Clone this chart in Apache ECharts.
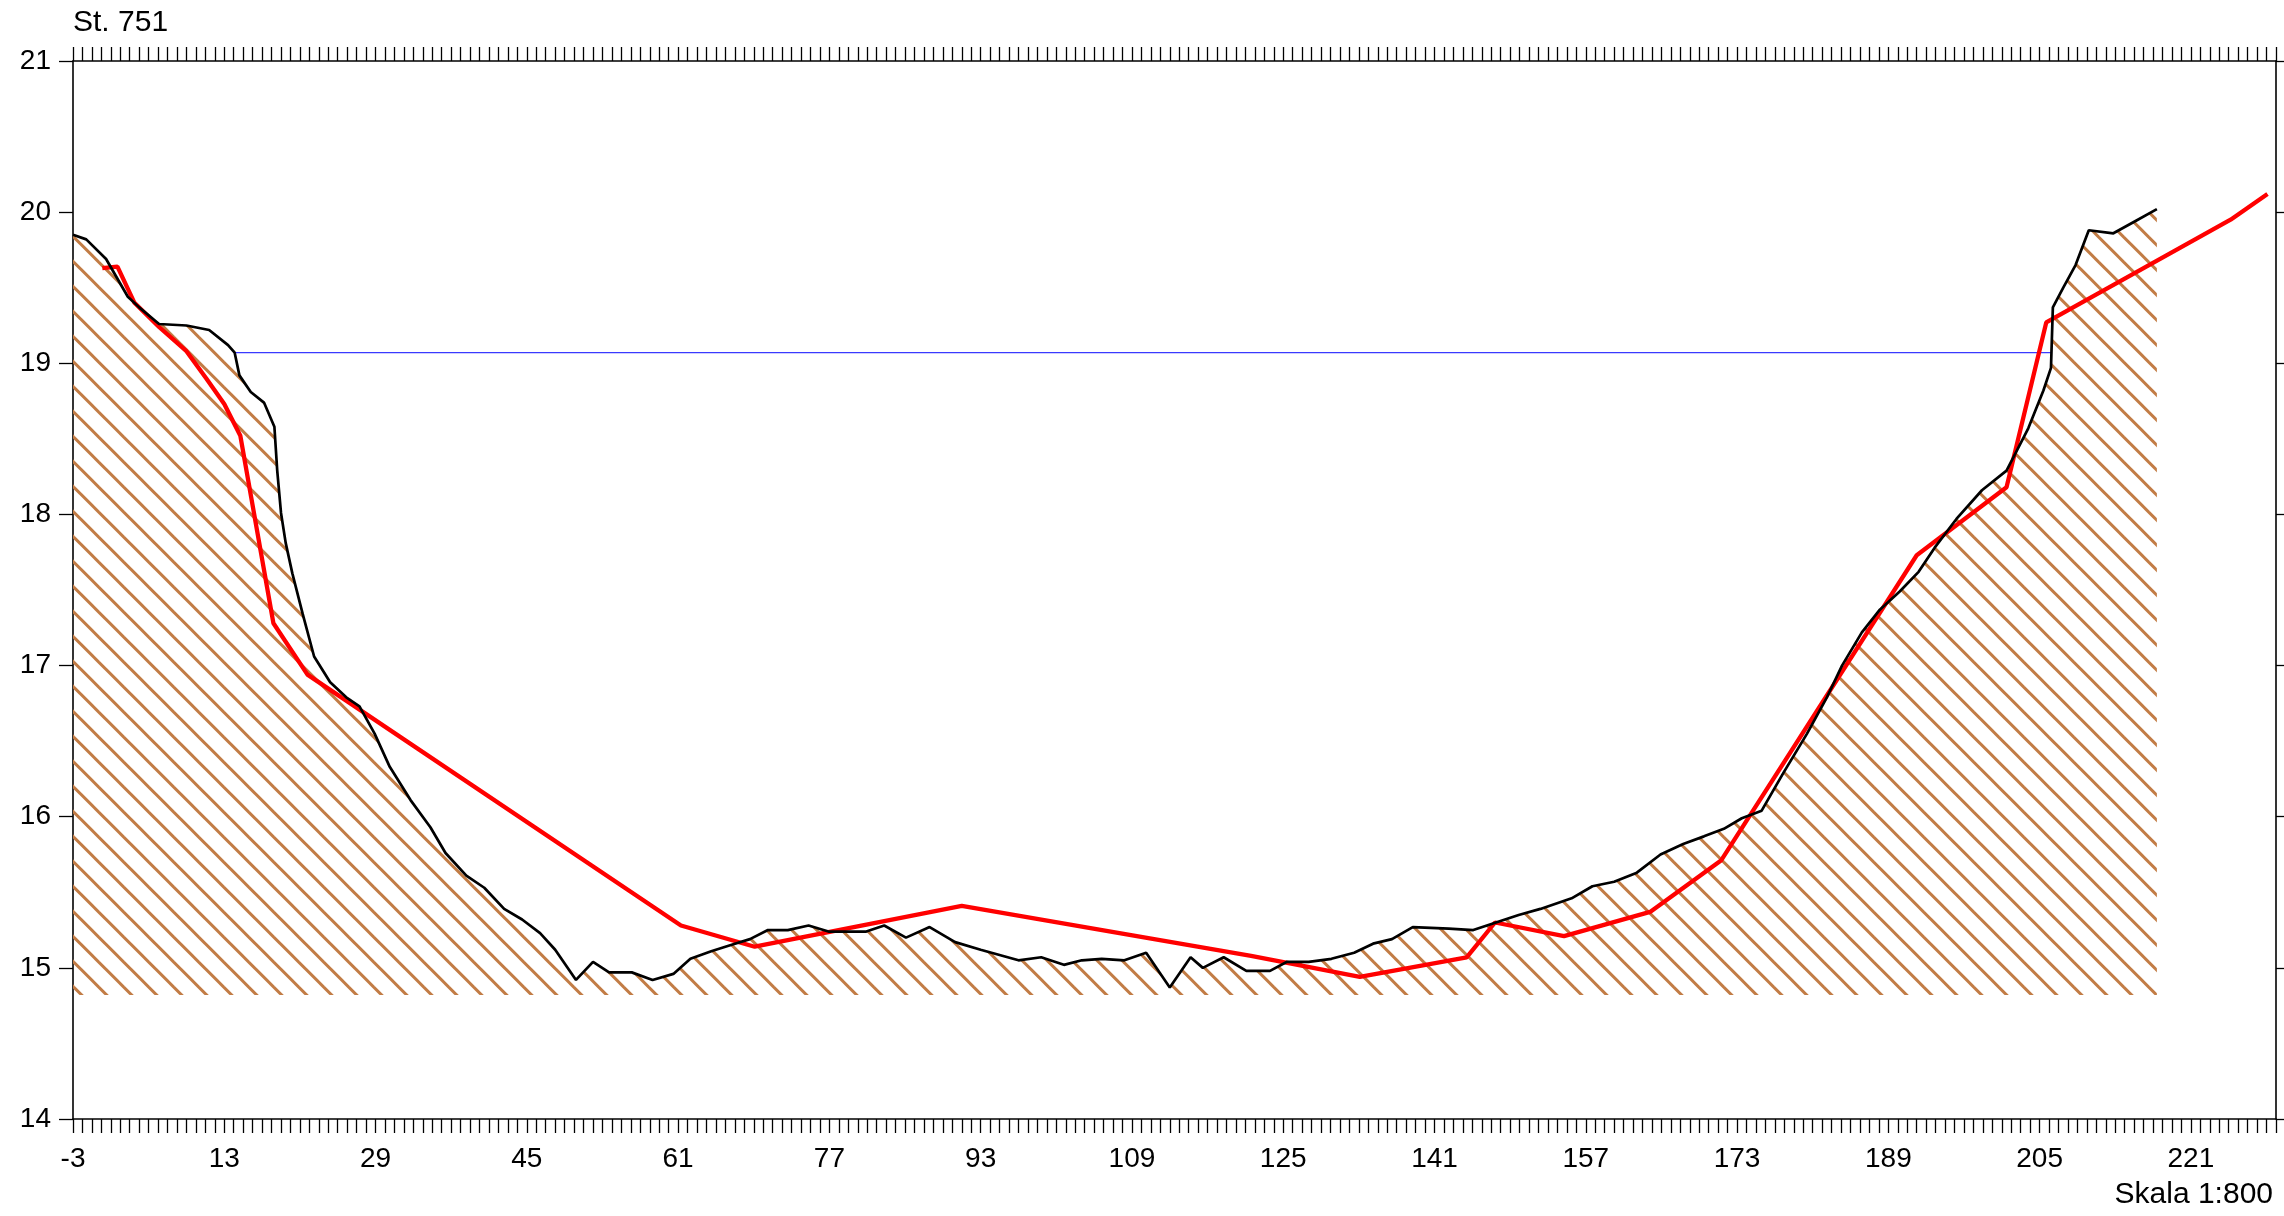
<!DOCTYPE html>
<html>
<head>
<meta charset="utf-8">
<script src="https://cdn.jsdelivr.net/npm/echarts@6/dist/echarts.min.js"></script>
<style>
html, body { margin: 0; padding: 0; background: #fff; }
#chart { width: 2284px; height: 1216px; }
</style>
</head>
<body>
<div id="chart"></div>
<script>
// terrain profile (black) - station, height
var groundX = [-3, -1.6, 0.5, 2.8, 4.0, 6.1, 9.0, 11.4, 13.4, 14.1, 14.6, 15.8, 17.2, 18.3, 18.6, 19.0, 19.5, 20.2, 21.3, 22.5,
  24.2, 25.9, 27.3, 28.9, 30.5, 32.7, 34.8, 36.4, 38.6, 40.5, 42.6, 44.5, 46.4, 48.0, 50.2, 52.0, 53.7, 56.1, 58.3, 60.5,
  62.3, 64.5, 66.5, 68.6, 70.5, 72.6, 74.8, 76.9, 80.9, 82.8, 85.1, 87.6, 90.3, 93.0, 97.0, 99.4, 101.8, 103.7, 105.8, 108.2,
  110.5, 113.0, 115.2, 116.5, 118.7, 121.1, 123.6, 125.4, 127.7, 130.1, 132.5, 134.5, 136.5, 138.7, 142.5, 145.1, 147.5, 149.9, 152.2, 155.5,
  157.7, 160.0, 162.4, 164.9, 167.3, 169.5, 171.6, 173.5, 175.6, 177.9, 180.4, 182.5, 184.1, 186.2, 188.1, 190.2, 192.2, 193.9, 196.2, 198.9,
  201.5, 203.8, 205.4, 206.2, 206.4, 207.5, 208.8, 210.2, 212.8, 215.1, 217.4];
var groundY = [19.85, 19.82, 19.69, 19.44, 19.37, 19.26, 19.25, 19.22, 19.12, 19.07, 18.92, 18.81, 18.74, 18.58, 18.29, 18.01, 17.81, 17.61, 17.34, 17.06,
  16.89, 16.79, 16.73, 16.55, 16.33, 16.11, 15.93, 15.76, 15.61, 15.53, 15.39, 15.32, 15.23, 15.12, 14.92, 15.04, 14.97, 14.97, 14.92, 14.96,
  15.06, 15.11, 15.15, 15.19, 15.25, 15.25, 15.28, 15.24, 15.24, 15.28, 15.20, 15.27, 15.17, 15.12, 15.05, 15.07, 15.02, 15.05, 15.06, 15.05,
  15.10, 14.87, 15.07, 15.00, 15.07, 14.98, 14.98, 15.04, 15.04, 15.06, 15.10, 15.16, 15.19, 15.27, 15.26, 15.25, 15.30, 15.35, 15.39, 15.46,
  15.54, 15.57, 15.63, 15.75, 15.82, 15.87, 15.92, 15.99, 16.04, 16.29, 16.55, 16.79, 17.00, 17.22, 17.37, 17.49, 17.62, 17.78, 17.97, 18.16,
  18.29, 18.57, 18.82, 18.97, 19.37, 19.50, 19.65, 19.88, 19.86, 19.94, 20.02];

// design profile (red)
var designX = [0.1, 1.7, 3.5, 6.1, 9.0, 11.1, 13.0, 14.7, 18.2, 21.8, 61.3, 69.1, 91.0, 121.6, 133.1, 144.4, 147.4, 154.7, 163.8, 171.3,
  192.0, 201.5, 205.7, 225.2, 229.1];
var designY = [19.63, 19.64, 19.40, 19.24, 19.08, 18.90, 18.73, 18.52, 17.28, 16.94, 15.28, 15.14, 15.41, 15.08, 14.94, 15.07, 15.30, 15.21, 15.37, 15.71,
  17.73, 18.18, 19.27, 19.95, 20.12];

// water level (blue)
var waterX = [14.1, 206.2];
var waterY = [19.07, 19.07];

var hatchBase = 14.82;
var xMin = -3, xMax = 230, labelStep = 16;
var yMin = 14, yMax = 21;

var font = '"Liberation Sans", Arial, sans-serif';

function pairs(xs, ys) {
    return xs.map(function (x, i) { return [x, ys[i]]; });
}

// 斜线填充
var hatch = document.createElement('canvas');
hatch.width = 25;
hatch.height = 25;
var hc = hatch.getContext('2d');
hc.strokeStyle = '#c27c45';
hc.lineWidth = 3;
[-25, 0, 25].forEach(function (o) {
    hc.beginPath();
    hc.moveTo(o + 11.7 - 2, -2);
    hc.lineTo(o + 11.7 + 27, 27);
    hc.stroke();
});

var chart = echarts.init(document.getElementById('chart'));

var xAxisBase = {
    type: 'value',
    min: xMin,
    max: xMax,
    interval: 1,
    axisLine: { onZero: false, lineStyle: { color: '#000', width: 1.6 } },
    axisTick: { show: true, inside: false, length: 14, lineStyle: { color: '#000', width: 1.3 } },
    splitLine: { show: false }
};
var yAxisBase = {
    type: 'value',
    min: yMin,
    max: yMax,
    interval: 1,
    axisLine: { show: true, onZero: false, lineStyle: { color: '#000', width: 1.6 } },
    axisTick: { show: true, inside: false, length: 14, lineStyle: { color: '#000', width: 1.3 } },
    splitLine: { show: false }
};

var option = {
    animation: false,
    backgroundColor: '#fff',
    grid: { left: 73, top: 61, right: 8, bottom: 97, containLabel: false },
    xAxis: [
        Object.assign({}, xAxisBase, {
            position: 'bottom',
            axisLabel: {
                margin: 26,
                fontSize: 28,
                fontFamily: font,
                color: '#000',
                formatter: function (v) {
                    var n = Math.round(v);
                    return ((n - xMin) % labelStep === 0) ? String(n) : '';
                }
            }
        }),
        Object.assign({}, xAxisBase, { position: 'top', axisLabel: { show: false } })
    ],
    yAxis: [
        Object.assign({}, yAxisBase, {
            position: 'left',
            axisLabel: { margin: 22, fontSize: 28, fontFamily: font, color: '#000' }
        }),
        Object.assign({}, yAxisBase, { position: 'right', axisLabel: { show: false } })
    ],
    graphic: [
        { type: 'text', left: 73, top: 8, style: { text: 'St. 751', font: '30px ' + font, fill: '#000' } },
        { type: 'text', right: 11, top: 1180, style: { text: 'Skala 1:800', font: '30px ' + font, fill: '#000' } }
    ],
    series: [
        {
            type: 'custom',
            silent: true,
            z: 1,
            data: [[xMin, hatchBase]],
            renderItem: function (params, api) {
                var pts = groundX.map(function (x, i) { return api.coord([x, groundY[i]]); });
                pts.push(api.coord([groundX[groundX.length - 1], hatchBase]));
                pts.push(api.coord([groundX[0], hatchBase]));
                return {
                    type: 'polygon',
                    shape: { points: pts },
                    style: { fill: { image: hatch, repeat: 'repeat' }, stroke: null }
                };
            }
        },
        {
            type: 'line',
            data: pairs(waterX, waterY),
            symbol: 'none',
            z: 2,
            lineStyle: { color: '#3a3aff', width: 1.2 }
        },
        {
            type: 'line',
            data: pairs(designX, designY),
            symbol: 'none',
            z: 3,
            lineStyle: { color: '#ff0000', width: 4.3 }
        },
        {
            type: 'line',
            data: pairs(groundX, groundY),
            symbol: 'none',
            z: 4,
            lineStyle: { color: '#000', width: 2.7 }
        }
    ]
};

chart.setOption(option);

window.onresize = function () {
    chart.resize();
};
</script>
</body>
</html>
